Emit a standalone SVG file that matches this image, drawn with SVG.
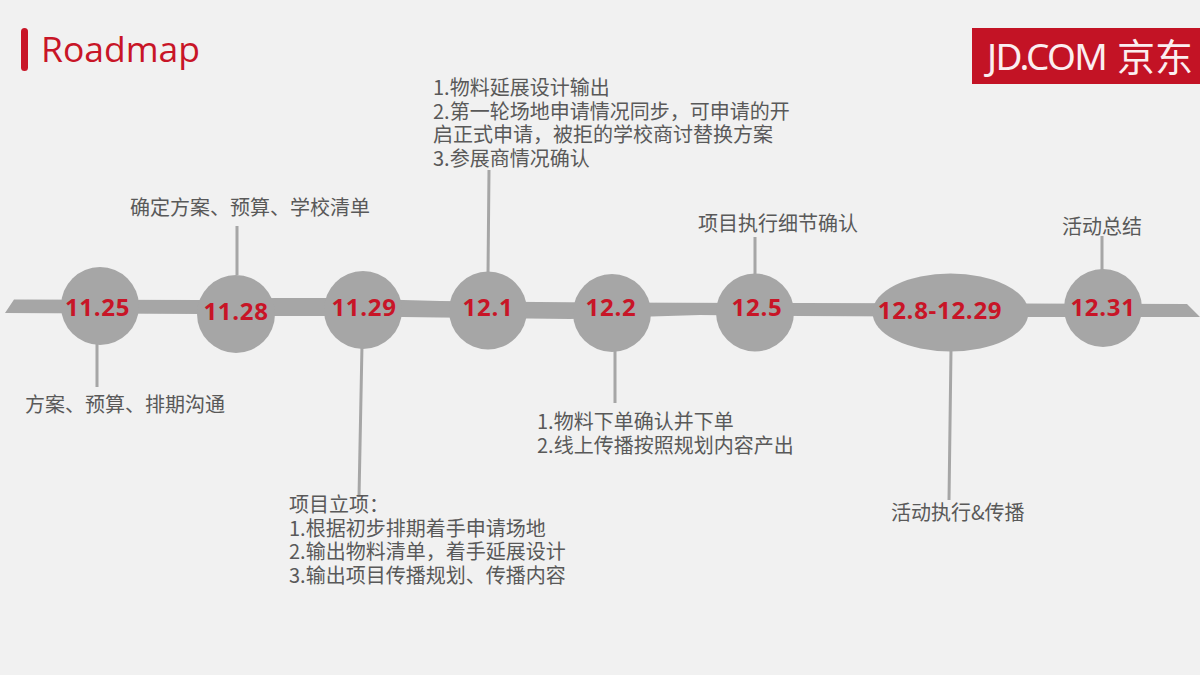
<svg xmlns="http://www.w3.org/2000/svg" width="1200" height="675" viewBox="0 0 1200 675">
<style>
.d{font:700 24px "Open Sans","Noto Sans",sans-serif;fill:#c81527;text-anchor:middle;letter-spacing:.7px}
.t{font:20px "Noto Sans CJK SC","Noto Sans",sans-serif;fill:#595959}
.n{fill:#a6a6a6}
.c{stroke:#a6a6a6;stroke-width:3;fill:none}
</style>
<rect width="1200" height="675" fill="#f1f1f1"/>
<g id="title">
<rect x="21" y="28" width="7" height="43" rx="3.5" fill="#c81527"/>
<text x="41" y="62" style="font:35.5px 'Open Sans','Noto Sans',sans-serif;fill:#c81527">Roadmap</text>
</g>
<g id="logo">
<rect x="972" y="28" width="228" height="56" fill="#c31325"/>
<text x="987" y="70" style="font:37px 'Noto Sans','Open Sans',sans-serif;fill:#fbeef0;letter-spacing:-1.6px">JD.COM</text>
<text x="1117" y="71" style="font:38px 'Noto Sans CJK SC',sans-serif;fill:#fbeef0">京东</text>
</g>
<g id="connectors">
<path class="n" d="M5 313L14 299.5L200 300L275 298L330 298L440 301L600 302.5L800 303L1187 304L1200 317L1040 317L800 316L700 315L570 319L440 317.5L330 316L275 316L200 314Z"/>
<path class="c" d="M97 340V387M237 226V275M362 345L359 497M489 170L488 275M615 350V403M755 237V275M951 350L949 500M1102 236V272"/>
</g>
<g id="n1"><circle class="n" cx="100" cy="306" r="39"/><text class="d" x="97.500" y="316">11.25</text></g>
<g id="n2"><circle class="n" cx="236" cy="314" r="39"/><text class="d" x="236" y="320">11.28</text></g>
<g id="n3"><circle class="n" cx="363" cy="310" r="39"/><text class="d" x="364" y="316">11.29</text></g>
<g id="n4"><circle class="n" cx="488" cy="310.500" r="39"/><text class="d" x="488" y="316">12.1</text></g>
<g id="n5"><circle class="n" cx="612" cy="313" r="39"/><text class="d" x="611" y="316">12.2</text></g>
<g id="n6"><circle class="n" cx="755" cy="312.500" r="39"/><text class="d" x="757" y="316">12.5</text></g>
<g id="n7"><ellipse class="n" cx="950.500" cy="312.500" rx="78" ry="39"/><text class="d" x="940" y="319">12.8-12.29</text></g>
<g id="n8"><circle class="n" cx="1103" cy="308" r="39"/><text class="d" x="1103" y="316">12.31</text></g>
<g id="labels">
<text class="t" x="25" y="412">方案、预算、排期沟通</text>
<text class="t" x="130" y="215">确定方案、预算、学校清单</text>
<text class="t" x="289" y="512">项目立项：<tspan x="289" dy="23.7">1.根据初步排期着手申请场地</tspan><tspan x="289" dy="23.7">2.输出物料清单，着手延展设计</tspan><tspan x="289" dy="23.7">3.输出项目传播规划、传播内容</tspan></text>
<text class="t" x="433" y="95">1.物料延展设计输出<tspan x="433" dy="23.7">2.第一轮场地申请情况同步，可申请的开</tspan><tspan x="433" dy="23.7">启正式申请，被拒的学校商讨替换方案</tspan><tspan x="433" dy="23.7">3.参展商情况确认</tspan></text>
<text class="t" x="537" y="429">1.物料下单确认并下单<tspan x="537" dy="24">2.线上传播按照规划内容产出</tspan></text>
<text class="t" x="698" y="231">项目执行细节确认</text>
<text class="t" x="891" y="520">活动执行&amp;传播</text>
<text class="t" x="1062" y="234">活动总结</text>
</g>
</svg>
